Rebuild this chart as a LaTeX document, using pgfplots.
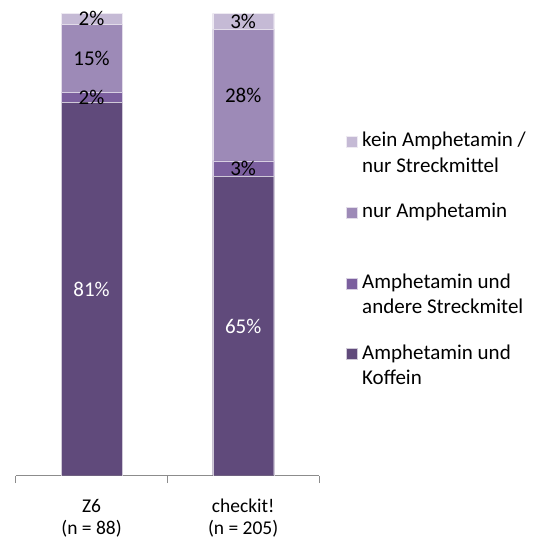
\documentclass[border=0pt]{standalone}
\usepackage{pgfplots}
\usepackage{pgfplotstable}
\pgfplotsset{compat=1.18}
\usepackage{fontspec}
\setmainfont{Carlito}
\definecolor{cA}{HTML}{604A7B}
\definecolor{cB}{HTML}{7B5F9E}
\definecolor{cC}{HTML}{9D8AB7}
\definecolor{cD}{HTML}{C5BAD5}
\definecolor{axgray}{HTML}{8C8C8C}
\pgfplotstableread{
x a la b lb c lc d ld
0 80.7 81 2.2 2 14.7 15 2.4 2
1 64.7 65 3.4 3 28.4 28 3.5 3
}\data
\begin{document}
\begin{tikzpicture}
\fontsize{21}{25.5}\selectfont
\path[use as bounding box] (-15.7pt,-64.3pt) rectangle (517.3pt,475.7pt);
\begin{axis}[
  at={(0pt,0pt)}, anchor=south west,
  scale only axis, width=303.3pt, height=462.4pt,
  xmin=-0.5, xmax=1.5, ymin=0, ymax=100,
  ybar stacked, bar width=61pt,
  hide y axis,
  axis x line*=bottom,
  x axis line style={axgray, line width=1pt},
  xtick={0,1},
  xticklabels={{Z6\\(n = 88)},{checkit!\\(n = 205)}},
  xticklabel style={align=center, font=\fontsize{19.5}{22}\selectfont, yshift=-16pt},
  major tick length=0pt,
  minor xtick={-0.5,0.5,1.5},
  minor tick length=7.5pt,
  tick align=outside,
  minor tick style={axgray, line width=1pt},
  point meta=explicit symbolic,
  nodes near coords={\pgfplotspointmeta\%},
  every node near coord/.append style={anchor=center, font=\fontsize{21}{25.5}\selectfont},
  legend style={draw=none, fill=none, at={(1.088,0.743)}, anchor=north west,
    inner sep=0pt, row sep=53pt, column sep=5pt,
    nodes={inner sep=0pt, anchor=base west},
    font=\fontsize{21}{25.5}\selectfont},
  legend cell align=left,
  reverse legend,
  legend image code/.code={\fill[#1] (0pt,-0.5pt) rectangle (11pt,10.5pt);},
]
\addplot[fill=cA, draw=white!70!cA, line width=0.3pt,
  every node near coord/.append style={text=white}]
  table[x=x, y=a, meta=la] {\data};
\addlegendentry{\parbox[t]{170pt}{Amphetamin und\\Koffein}}
\addplot[fill=cB, draw=white!70!cB, line width=0.3pt,
  every node near coord/.append style={text=black}]
  table[x=x, y=b, meta=lb] {\data};
\addlegendentry{\parbox[t]{170pt}{Amphetamin und\\andere Streckmitel}}
\addplot[fill=cC, draw=white!70!cC, line width=0.3pt,
  every node near coord/.append style={text=black}]
  table[x=x, y=c, meta=lc] {\data};
\addlegendentry{\parbox[t]{170pt}{nur Amphetamin}}
\addplot[fill=cD, draw=white!70!cD, line width=0.3pt,
  every node near coord/.append style={text=black}]
  table[x=x, y=d, meta=ld] {\data};
\addlegendentry{\parbox[t]{170pt}{kein Amphetamin /\\nur Streckmittel}}
\end{axis}
\end{tikzpicture}
\end{document}
